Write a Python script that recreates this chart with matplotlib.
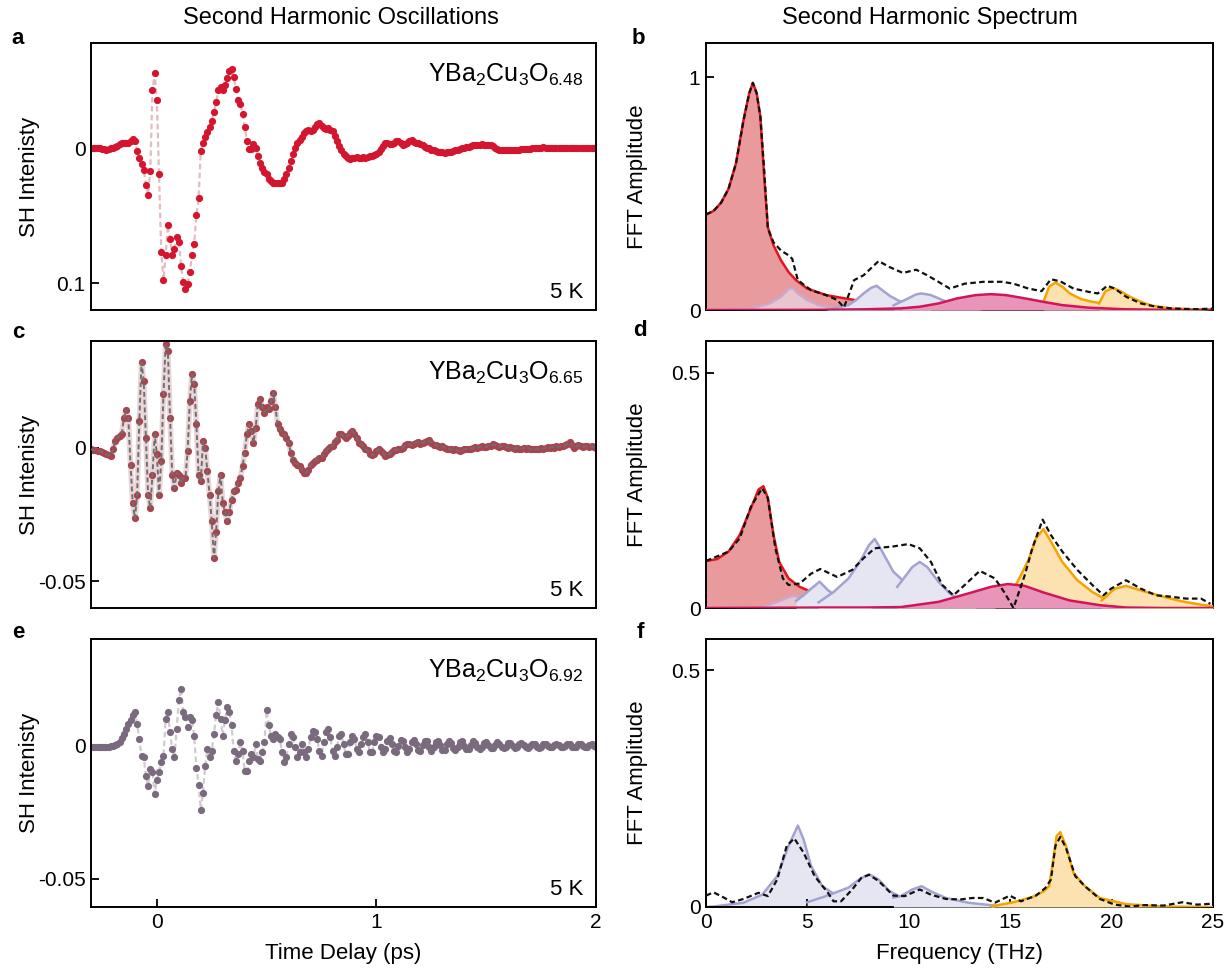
import numpy as np
import matplotlib
matplotlib.use("Agg")
import matplotlib.pyplot as plt

plt.rcParams["font.family"] = ["Liberation Sans", "DejaVu Sans"]
plt.rcParams["mathtext.default"] = "regular"

##### Time traces (SH intensity, units of 1e-3), t = -0.30 ... 2.00 ps, step 0.01
time_ps = np.round(np.arange(-0.30, 2.0001, 0.01), 2)

sh_648 = [
    0, 0, 0, -0.2, 0, -0.5, -0.8, -1, -0.8, -0.2,
    0.5, 1, 1.8, 2.8, 3.5, 4, 3.5, 4.2, 5.5, 6.8,
    5.5, -2, -7, -12, -16, -27, -34.5, -17, 43, 55.5,
    35.5, -19.5, -77, -98, -79.5, -57, -67, -79.5, -74.5, -66,
    -69.5, -87, -99.5, -104.5, -101, -92, -79.5, -71, -49.5, -37,
    -2, 4, 8, 12, 15.5, 20.5, 27, 34, 43, 45.5,
    43, 47, 52, 57, 59, 53, 44, 35.5, 33, 25.5,
    15.5, 5.5, -0.8, -0.8, 3, 0.5, -5.8, -10.8, -14.5, -17.5,
    -19.5, -22.5, -24.5, -25.5, -25.8, -25.8, -25.5, -25.8, -23, -19.5,
    -14.5, -9.5, -4.5, 0.5, 4, 6, 8.5, 11, 12.5, 13.5,
    12.5, 13.5, 16, 18, 18.5, 16.8, 15, 14.2, 15, 13.5,
    12.5, 9.2, 5.5, 1.8, -1.5, -4, -5.8, -7, -8.2, -7.5,
    -7, -6.5, -7, -7, -6.5, -7, -6.5, -6, -5.5, -5,
    -4, -2.5, -0.8, 1.8, 3.5, 3.8, 3, 3, 4.2, 5.5,
    5, 3.5, 2.5, 3, 4.2, 5.5, 6, 4.5, 3.5, 3.5,
    3, 2, 1, 0.5, 0, -1, -1.5, -2, -2.5, -3,
    -3.2, -3.5, -3.2, -3, -2.5, -2, -1.5, -1, -0.8, 0,
    0.5, 1, 1, 1.5, 2, 2.5, 2.5, 2.5, 2.8, 2.5,
    2.5, 2, 2.2, 1.8, 0.5, -0.8, -1, -1.2, -1.2, -1.5,
    -1.2, -1.2, -1, -1.2, -1, -1, -0.8, -0.8, -0.5, -0.8,
    -0.5, -0.2, 0, 0.2, 0.5, 0.5, 0.8, 0.5, 0.5, 0.5,
    0.2, 0.5, 0.2, 0, 0, 0.2, 0, 0, 0, 0.2,
    0, 0, -0.2, 0, 0, 0.2, 0, -0.2, 0, 0, 0,
]

sh_665 = [
    -0.6, -0.8, -1, -1.3, -1.3, -1.5, -1.8, -2.3, -2.8, -3.1,
    -0.6, 2.5, 3.8, 4.4, 5, 11.3, 14.1, 11.3, -6.3, -20.7,
    -26.4, -17.6, 10, 32, 25.1, 3.8, -17.6, -22.6, -10, 5,
    -2.5, -17.6, -5, 20.1, 38.9, 36.4, 11.3, -10, -15.1, -9.4,
    -10, -13.2, -11.3, -11.3, -1.3, 17.6, 27.6, 23.9, 8.8, -10,
    -12.6, 2.5, 0, -8.8, -17.6, -27.6, -41.4, -31.4, -16.3, -10,
    -20.7, -23.9, -27.6, -23.9, -19.5, -16.3, -15.7, -13.2, -11.3, -6.9,
    -1.9, 5, 8.8, 6.3, 1.9, 7.5, 16.3, 18.2, 15.1, 13.2,
    15.1, 14.4, 17.6, 20.7, 15.1, 8.8, 6.9, 5.7, 5, 3.8,
    1.9, -1.9, -4.4, -5.7, -6.3, -6.9, -8.2, -9.4, -9.4, -8.2,
    -6.5, -5.7, -5, -4.4, -4, -3.8, -2.5, -1.3, -0.3, 0.3,
    0.6, 2.3, 3.1, 5, 5, 4.4, 3.8, 4.4, 5.7, 6.3,
    5.3, 3.8, 1.9, 1.3, 0.6, -0.6, -1, -2.3, -2.8, -2.3,
    -1.3, -0.6, -1.3, -1.9, -3.1, -2.8, -2.3, -1.5, -1, -0.8,
    -0.6, -0.4, 0, 1, 1.3, 1.5, 1, 1.5, 1.9, 2.3,
    1.5, 1.8, 2.3, 2.5, 2.8, 1.9, 1, 1, 0.6, 0.3,
    0.6, 0, -0.4, -0.3, -0.6, -0.8, -0.5, -1, -1.3, -0.8,
    -0.5, -0.4, -0.5, -0.3, 0, 0.3, 0, 0.3, 0.5, 0.3,
    0.3, 0.8, 0.5, 1.3, 1, 0.5, 0.3, 0.8, 0.5, 0.3,
    0, 0.3, 0, -0.3, 0, -0.4, -0.3, 0, -0.4, 0,
    -0.5, -0.4, -0.6, -0.3, -0.5, 0, -0.3, 0, 0.3, 0,
    0.3, 0, 0.5, 0.3, 0.5, 0.6, 1, 1.5, 2, 1,
    0, 0.5, 1, 0.6, 0.3, 0.5, 0.6, 0.3, 0.5, 0.3, 0,
]

sh_692 = [
    -0.3, -0.3, -0.4, -0.3, -0.4, -0.3, -0.3, -0.4, -0.3, -0.2,
    0, 0.3, 0.6, 1.3, 2.8, 4.4, 6.3, 8.2, 9.5, 11.4,
    12.7, 8.2, 2.5, -3.8, -4.4, -11.4, -15, -8.9, -10, -18.3,
    -12.7, -10, -6.3, -4, 10, 12.7, 5, -1.3, -4.4, 6.3,
    17.1, 21.5, 12.7, 10.8, 7, 10.8, 9.5, 3.8, -8.2, -14.6,
    -24.1, -17.7, -7.6, -1.3, -4.4, -1.9, 4.4, 11.4, 16.5, 10.1,
    3.8, 9.5, 14.6, 12.7, 7.6, -1.9, -5.7, -3.2, 1.3, -1.9,
    -9.5, -9.5, -5.7, -3.2, -4.4, 0.6, -5, -5.7, -2.5, 1.3,
    13.3, 7.6, 3.8, 2.5, 4.4, 3.2, 2.5, -2.5, -6.3, -4.4,
    0.6, 4.4, 3.2, -0.6, -4.4, -2.5, 0.6, -2.5, -4.4, -1.3,
    3.2, 5.7, 5, 2.5, -1.9, -3.8, 1.3, 5, 6.3, 3.2,
    -1.9, -3.8, -0.6, 3.8, 4.4, 0.6, -3.2, -3.2, 1.3, 3.8,
    2.5, -1.3, -2.5, 0.6, 3.2, 4.4, 1.3, -2.5, -2.5, 1.3,
    3.8, 3.2, -0.6, -2.5, -1.3, 1.9, 2.8, 0.6, -1.9, -2.5,
    0, 2.2, 1.9, -0.6, -2.2, -1.3, 1.3, 2.2, 0.6, -1.6,
    -1.9, 0.3, 1.9, 1.6, -0.6, -1.9, -0.6, 1.3, 1.9, 0.3,
    -1.6, -1.6, 0.6, 1.9, 1, -1, -1.6, -0.3, 1.3, 1.6,
    0, -1.3, -1.3, 0.3, 1.6, 1, -0.6, -1.3, -0.6, 1,
    1.3, 0.3, -1, -1, 0.3, 1.3, 0.6, -0.6, -1, -0.3,
    1, 1, 0, -1, -0.6, 0.6, 1, 0.3, -0.6, -0.8,
    0, 0.8, 0.6, -0.3, -0.8, -0.3, 0.6, 0.8, 0, -0.6,
    -0.6, 0.3, 0.8, 0.3, -0.3, -0.6, 0, 0.6, 0.6, -0.3,
    -0.6, -0.3, 0.6, 0.6, 0, -0.6, -0.3, 0.3, 0.6, 0, -0.3,
]

##### Spectra (FFT amplitude vs THz)
# panel b, YBCO 6.48
b_red_f = [0, 0.37, 0.74, 1.11, 1.48, 1.85, 2.13, 2.31, 2.50, 2.68, 2.87, 3.05, 3.33, 3.70, 4.07, 4.44, 4.99, 5.92, 7.03, 8.51, 10.36, 12.39, 15.16, 25]
b_red_a = [0.41, 0.425, 0.46, 0.52, 0.63, 0.815, 0.93, 0.975, 0.93, 0.83, 0.57, 0.355, 0.277, 0.213, 0.163, 0.128, 0.092, 0.064, 0.047, 0.028, 0.014, 0.004, 0, 0]
b_pink_f = [0, 1.29, 2.22, 3.14, 3.70, 4.07, 4.25, 4.53, 4.99, 5.55, 6.29, 7.0]
b_pink_a = [0, 0.003, 0.007, 0.028, 0.057, 0.089, 0.096, 0.071, 0.043, 0.021, 0.007, 0]
b_lav1_f = [5.92, 7.03, 7.40, 7.77, 8.14, 8.41, 8.69, 9.06, 9.43, 9.80, 10.36, 11.09]
b_lav1_a = [0, 0.021, 0.043, 0.071, 0.095, 0.104, 0.085, 0.061, 0.043, 0.028, 0.014, 0.004]
b_lav2_f = [9.25, 9.61, 9.98, 10.36, 10.63, 11.09, 11.65, 12.20, 12.76, 13.68]
b_lav2_a = [0.02, 0.035, 0.05, 0.067, 0.071, 0.064, 0.043, 0.021, 0.007, 0]
b_mag_f = [0, 5.92, 7.77, 9.61, 10.54, 11.46, 12.39, 13.31, 14.05, 14.79, 15.72, 16.64, 17.57, 18.86, 20.71, 22.56, 25]
b_mag_a = [0, 0.001, 0.003, 0.007, 0.014, 0.028, 0.05, 0.064, 0.068, 0.064, 0.05, 0.035, 0.021, 0.01, 0.003, 0.001, 0]
b_or1_f = [16.64, 16.92, 17.23, 17.57, 17.94, 18.49, 19.05, 19.79, 20.71, 22.0, 23.48, 25]
b_or1_a = [0.035, 0.1, 0.118, 0.1, 0.071, 0.047, 0.035, 0.025, 0.014, 0.006, 0.002, 0]
b_or2_f = [19.38, 19.69, 20.06, 20.43, 20.90, 21.45, 22.0, 22.93, 24.41, 25]
b_or2_a = [0.028, 0.08, 0.095, 0.081, 0.057, 0.035, 0.018, 0.007, 0.002, 0]
b_fft_f = [0, 0.37, 0.74, 1.11, 1.48, 1.85, 2.13, 2.31, 2.50, 2.68, 2.87, 3.05, 3.33, 3.70, 4.07, 4.25, 4.53,
           5.18, 5.92, 6.47, 6.80, 7.06, 7.30, 7.77, 8.51, 9.06, 9.71, 10.36, 10.91, 11.46, 12.02, 12.76,
           13.68, 14.61, 15.16, 15.90, 16.55, 17.01, 17.47, 18.12, 18.86, 19.32, 19.79, 20.15, 20.71,
           21.45, 22.19, 22.93, 24.04, 25]
b_fft_a = [0.41, 0.425, 0.46, 0.52, 0.63, 0.815, 0.93, 0.975, 0.93, 0.83, 0.60, 0.35, 0.29, 0.255, 0.235, 0.22, 0.128,
           0.085, 0.064, 0.043, 0.011, 0.07, 0.128, 0.149, 0.21, 0.184, 0.159, 0.173, 0.149, 0.121, 0.092, 0.113,
           0.121, 0.121, 0.113, 0.092, 0.081, 0.132, 0.123, 0.092, 0.078, 0.071, 0.104, 0.092, 0.057,
           0.028, 0.014, 0.007, 0.003, 0.006]

# panel d, YBCO 6.65
d_red_f = [0, 0.55, 1.11, 1.66, 2.22, 2.59, 2.83, 3.05, 3.33, 3.61, 4.07, 4.62, 5.36, 6.47, 7.77, 9.61, 11.46, 15.16, 25]
d_red_a = [0.100, 0.104, 0.120, 0.155, 0.213, 0.252, 0.259, 0.234, 0.155, 0.098, 0.063, 0.045, 0.031, 0.018, 0.009, 0.004, 0.002, 0, 0]
d_pink_f = [2.77, 3.51, 4.07, 4.35, 4.81, 5.55, 6.29]
d_pink_a = [0.002, 0.013, 0.023, 0.026, 0.019, 0.007, 0.001]
d_lav1_f = [4.44, 4.81, 5.18, 5.60, 6.01, 6.47, 7.21, 8.14]
d_lav1_a = [0.015, 0.027, 0.041, 0.056, 0.038, 0.024, 0.009, 0.002]
d_lav2_f = [5.55, 6.29, 7.03, 7.58, 8.04, 8.32, 8.69, 9.24, 9.98, 10.72, 11.83, 12.94, 14.24]
d_lav2_a = [0.012, 0.034, 0.063, 0.098, 0.134, 0.147, 0.12, 0.077, 0.048, 0.031, 0.016, 0.007, 0.002]
d_lav3_f = [9.43, 9.80, 10.17, 10.54, 10.91, 11.46, 12.02, 12.57, 13.31]
d_lav3_a = [0.045, 0.066, 0.087, 0.098, 0.087, 0.056, 0.031, 0.016, 0.006]
d_mag_f = [0, 5.92, 7.77, 9.61, 11.46, 12.94, 14.05, 14.89, 15.72, 16.64, 17.94, 19.42, 20.71, 22.56, 25]
d_mag_a = [0, 0.001, 0.001, 0.002, 0.013, 0.031, 0.045, 0.051, 0.047, 0.033, 0.016, 0.006, 0.001, 0, 0]
d_or1_f = [15.26, 15.53, 15.90, 16.27, 16.64, 17.01, 17.57, 18.31, 19.05, 19.60, 20.71, 22.56, 25]
d_or1_a = [0.048, 0.07, 0.102, 0.148, 0.168, 0.141, 0.098, 0.059, 0.034, 0.021, 0.01, 0.004, 0.001]
d_or2_f = [19.51, 20.15, 20.71, 21.63, 22.56, 23.48, 24.41, 25]
d_or2_a = [0.016, 0.041, 0.047, 0.035, 0.024, 0.014, 0.007, 0.004]
d_fft_f = [0, 1.11, 1.66, 2.22, 2.77, 3.05, 3.42, 3.79, 4.07, 4.62, 5.18, 5.64, 6.47, 7.21, 7.77, 8.32, 9.24,
           9.98, 10.54, 11.09, 11.65, 12.20, 12.76, 13.50, 14.24, 14.70, 15.16, 15.72, 16.09, 16.60, 17.01,
           17.57, 18.31, 19.05, 19.60, 19.97, 20.71, 21.45, 22.19, 22.93, 23.67, 24.41, 24.87]
d_fft_a = [0.100, 0.120, 0.148, 0.216, 0.255, 0.234, 0.127, 0.063, 0.049, 0.052, 0.073, 0.083, 0.066, 0.081, 0.106, 0.127, 0.131,
           0.136, 0.127, 0.098, 0.049, 0.027, 0.049, 0.079, 0.063, 0.034, 0.0, 0.07, 0.127, 0.188, 0.155,
           0.12, 0.081, 0.049, 0.027, 0.041, 0.059, 0.041, 0.027, 0.024, 0.02, 0.02, 0.009]

# panel f, YBCO 6.92
f_lav1_f = [0, 0.37, 1.85, 2.77, 3.51, 4.07, 4.53, 4.81, 5.18, 5.73, 6.47, 7.77, 9.61, 13.31]
f_lav1_a = [0, 0.001, 0.009, 0.026, 0.065, 0.129, 0.172, 0.143, 0.087, 0.044, 0.023, 0.011, 0.004, 0]
f_lav2_f = [4.99, 5.92, 7.03, 7.58, 8.04, 8.51, 9.06, 9.61, 10.54, 12.39, 14.24]
f_lav2_a = [0.01, 0.023, 0.041, 0.059, 0.069, 0.058, 0.033, 0.021, 0.012, 0.005, 0.001]
f_lav3_f = [9.24, 9.61, 10.17, 10.63, 11.09, 11.83, 12.94, 14.24]
f_lav3_a = [0.02, 0.023, 0.037, 0.044, 0.033, 0.019, 0.009, 0.003]
f_or_f = [14.05, 15.16, 16.09, 16.64, 16.92, 17.10, 17.29, 17.47, 17.75, 18.12, 18.68, 19.42, 20.71, 22.56, 25]
f_or_a = [0.001, 0.01, 0.021, 0.033, 0.044, 0.094, 0.15, 0.158, 0.129, 0.072, 0.044, 0.019, 0.006, 0.001, 0]
f_fft_f = [0, 0.37, 0.92, 1.29, 1.85, 2.59, 3.05, 3.51, 3.98, 4.35, 4.81, 5.36, 6.01, 6.29, 6.66, 7.21, 7.67,
           8.04, 8.51, 9.24, 9.80, 10.54, 11.09, 11.83, 12.57, 13.13, 13.68, 14.24, 14.98, 15.53, 16.27,
           16.73, 17.01, 17.23, 17.47, 17.75, 18.21, 18.68, 19.42, 20.15, 20.89, 21.63, 22.56, 23.48,
           24.22, 24.96]
f_fft_a = [0.024, 0.031, 0.019, 0.010, 0.017, 0.030, 0.023, 0.058, 0.129, 0.145, 0.115, 0.065, 0.030, 0.012, 0.012, 0.037, 0.062,
           0.068, 0.055, 0.024, 0.023, 0.037, 0.026, 0.017, 0.016, 0.019, 0.019, 0.009, 0.024, 0.012, 0.024,
           0.040, 0.058, 0.129, 0.148, 0.125, 0.065, 0.044, 0.017, 0.005, 0.001, 0.004, 0.003, 0.010,
           0.005, 0.007]

##### Styles
RED = ("#e89a9c", "#e0161e")
PINK = ("#e8c6cf", "#c9a9cc")
LAV = ("#e6e6f3", "#a3a3d1")
MAG = ("#e895b9", "#d3145a")
ORG = ("#fde2b1", "#f5a300")

W, H = 1227, 974
fig = plt.figure(figsize=(W / 100, H / 100), dpi=100)


def px_axes(x0, y0, x1, y1):
    return fig.add_axes([x0 / W, 1 - y1 / H, (x1 - x0) / W, (y1 - y0) / H])


def style_axes(ax):
    for s in ax.spines.values():
        s.set_linewidth(1.4)
    ax.tick_params(direction="in", length=6, width=1.3, labelsize=15, pad=4)


rows = [(43, 310), (341, 608), (639, 907)]
LX = (91, 596)
RX = (706, 1213)

### Left column: time traces
traces = [
    (sh_648, "#d3152f", "#e3bcc0", r"YBa$_2$Cu$_3$O$_{6.48}$", (-0.120, 0.078), [-0.1, 0], ["0.1", "0"]),
    (sh_665, "#a9444f", "#6f6f6f", r"YBa$_2$Cu$_3$O$_{6.65}$", (-0.060, 0.040), [-0.05, 0], ["-0.05", "0"]),
    (sh_692, "#7a6a7e", "#cfcbcf", r"YBa$_2$Cu$_3$O$_{6.92}$", (-0.0606, 0.0401), [-0.05, 0], ["-0.05", "0"]),
]
for i, (vals, mcol, lcol, label, ylim, yt, ytl) in enumerate(traces):
    ax = px_axes(LX[0], rows[i][0], LX[1], rows[i][1])
    y = np.array(vals) * 1e-3
    if i == 1:
        # dark dashed fit sits on top of the points, with a pale halo
        ax.plot(time_ps, y, color="#ead6d8", lw=4.0, zorder=1)
        ax.plot(time_ps, y, "o", ms=5.2, color=mcol, mec="none", zorder=2)
        ax.plot(time_ps, y, ls=(0, (2.5, 1.5)), lw=1.4, color=lcol, zorder=3)
    else:
        ax.plot(time_ps, y, ls=(0, (2.5, 1.5)), lw=1.6, color=lcol, zorder=1)
        ax.plot(time_ps, y, "o", ms=5.2, color=mcol, mec="none", zorder=2)
    ax.set_xlim(-0.3, 2.0)
    ax.set_ylim(*ylim)
    ax.set_yticks(yt)
    ax.set_yticklabels(ytl)
    style_axes(ax)
    if i < 2:
        ax.set_xticks([])
    else:
        ax.set_xticks([0, 1, 2])
        ax.set_xlabel("Time Delay (ps)", fontsize=16, labelpad=8)
    ax.set_ylabel("SH Intenisty", fontsize=16)
    ax.yaxis.set_label_coords(-0.10, 0.5)
    ax.text(0.975, 0.88, label, transform=ax.transAxes, ha="right", va="center", fontsize=18)
    ax.text(0.975, 0.065, "5 K", transform=ax.transAxes, ha="right", va="center", fontsize=16)

### Right column: spectra
def fill_comp(ax, f, a, col, z):
    ax.fill_between(f, 0, a, color=col[0], lw=0, zorder=z)
    ax.plot(f, a, color=col[1], lw=1.8, zorder=z + 0.5)


spectra = [
    dict(comps=[(b_red_f, b_red_a, RED), (b_pink_f, b_pink_a, PINK), (b_lav1_f, b_lav1_a, LAV),
                (b_lav2_f, b_lav2_a, LAV), (b_or1_f, b_or1_a, ORG), (b_or2_f, b_or2_a, ORG),
                (b_mag_f, b_mag_a, MAG)],
         fft=(b_fft_f, b_fft_a), ylim=(0, 1.146), yt=[0, 1], ytl=["0", "1"]),
    dict(comps=[(d_red_f, d_red_a, RED), (d_pink_f, d_pink_a, PINK), (d_lav1_f, d_lav1_a, LAV),
                (d_lav2_f, d_lav2_a, LAV), (d_lav3_f, d_lav3_a, LAV), (d_or1_f, d_or1_a, ORG),
                (d_or2_f, d_or2_a, ORG), (d_mag_f, d_mag_a, MAG)],
         fft=(d_fft_f, d_fft_a), ylim=(0, 0.568), yt=[0, 0.5], ytl=["0", "0.5"]),
    dict(comps=[(f_lav1_f, f_lav1_a, LAV), (f_lav2_f, f_lav2_a, LAV), (f_lav3_f, f_lav3_a, LAV),
                (f_or_f, f_or_a, ORG)],
         fft=(f_fft_f, f_fft_a), ylim=(0, 0.566), yt=[0, 0.5], ytl=["0", "0.5"]),
]
for i, sp in enumerate(spectra):
    ax = px_axes(RX[0], rows[i][0], RX[1], rows[i][1])
    for k, (f, a, col) in enumerate(sp["comps"]):
        fill_comp(ax, f, a, col, 1 + k)
    ax.plot(sp["fft"][0], sp["fft"][1], color="#111111", lw=1.6, ls=(0, (2.5, 1.5)), zorder=20)
    ax.set_xlim(0, 25)
    ax.set_ylim(*sp["ylim"])
    ax.set_yticks(sp["yt"])
    ax.set_yticklabels(sp["ytl"])
    style_axes(ax)
    if i < 2:
        ax.set_xticks([])
    else:
        ax.set_xticks([0, 5, 10, 15, 20, 25])
        ax.set_xlabel("Frequency (THz)", fontsize=16, labelpad=8)
    ax.set_ylabel("FFT Amplitude", fontsize=16)
    ax.yaxis.set_label_coords(-0.114, 0.5)

### Titles and panel letters
fig.text(341 / W, 1 - 18 / H, "Second Harmonic Oscillations", ha="center", va="center", fontsize=17)
fig.text(930 / W, 1 - 18 / H, "Second Harmonic Spectrum", ha="center", va="center", fontsize=17)
for letter, (x, yy) in zip("abcdef", [(18, 38), (638, 38), (18, 333), (640, 330), (18, 632), (640, 632)]):
    fig.text(x / W, 1 - yy / H, letter, ha="center", va="center", fontsize=16, fontweight="bold")

fig.savefig("out.png", dpi=100)
